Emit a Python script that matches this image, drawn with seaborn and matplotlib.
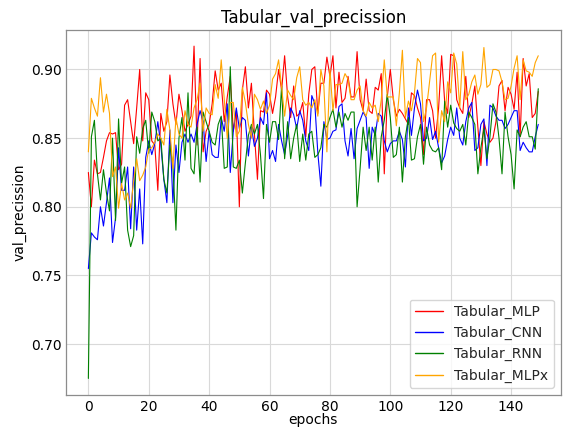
"""Tabular_val_precission 곡선 다시 그리기"""
import matplotlib
matplotlib.use("Agg")
import matplotlib.pyplot as plt
import numpy as np
import pandas as pd
import seaborn as sns

# 그림에서 읽은 값 (epoch 0 ~ 149)
mlp = [
    0.825, 0.800, 0.834, 0.824, 0.825, 0.836, 0.848, 0.854, 0.853, 0.854,
    0.827, 0.831, 0.874, 0.878, 0.862, 0.846, 0.872, 0.900, 0.848, 0.883,
    0.878, 0.848, 0.845, 0.812, 0.868, 0.855, 0.862, 0.896, 0.875, 0.860,
    0.882, 0.870, 0.855, 0.860, 0.866, 0.917, 0.845, 0.908, 0.840, 0.855,
    0.860, 0.875, 0.899, 0.885, 0.890, 0.862, 0.880, 0.895, 0.855, 0.870,
    0.800, 0.885, 0.902, 0.872, 0.890, 0.853, 0.820, 0.870, 0.869, 0.885,
    0.882, 0.868, 0.880, 0.900, 0.885, 0.910, 0.880, 0.865, 0.888, 0.866,
    0.868, 0.876, 0.851, 0.882, 0.900, 0.902, 0.868, 0.890, 0.890, 0.909,
    0.895, 0.910, 0.872, 0.898, 0.876, 0.879, 0.895, 0.880, 0.880, 0.913,
    0.878, 0.870, 0.893, 0.870, 0.868, 0.887, 0.885, 0.897, 0.824, 0.880,
    0.900, 0.878, 0.866, 0.871, 0.868, 0.864, 0.860, 0.883, 0.881, 0.872,
    0.865, 0.838, 0.878, 0.878, 0.870, 0.850, 0.872, 0.910, 0.877, 0.868,
    0.911, 0.910, 0.878, 0.872, 0.868, 0.895, 0.865, 0.875, 0.888, 0.858,
    0.830, 0.862, 0.853, 0.847, 0.850, 0.862, 0.888, 0.892, 0.870, 0.887,
    0.882, 0.871, 0.898, 0.851, 0.908, 0.888, 0.897, 0.865, 0.868, 0.884,
]
cnn = [
    0.755, 0.781, 0.778, 0.776, 0.800, 0.786, 0.803, 0.821, 0.774, 0.792,
    0.843, 0.812, 0.812, 0.829, 0.784, 0.829, 0.783, 0.813, 0.773, 0.836,
    0.848, 0.838, 0.846, 0.862, 0.845, 0.820, 0.803, 0.856, 0.803, 0.845,
    0.825, 0.847, 0.853, 0.847, 0.853, 0.847, 0.860, 0.870, 0.862, 0.833,
    0.855, 0.838, 0.836, 0.836, 0.865, 0.855, 0.875, 0.825, 0.855, 0.872,
    0.857, 0.865, 0.863, 0.837, 0.858, 0.844, 0.850, 0.865, 0.860, 0.883,
    0.835, 0.841, 0.833, 0.860, 0.848, 0.838, 0.852, 0.872, 0.867, 0.857,
    0.870, 0.863, 0.848, 0.841, 0.881, 0.875, 0.839, 0.815, 0.862, 0.849,
    0.850, 0.855, 0.856, 0.873, 0.875, 0.848, 0.837, 0.857, 0.835, 0.857,
    0.863, 0.869, 0.865, 0.828, 0.858, 0.852, 0.868, 0.866, 0.848, 0.840,
    0.846, 0.848, 0.848, 0.855, 0.849, 0.829, 0.872, 0.852, 0.872, 0.885,
    0.875, 0.848, 0.850, 0.865, 0.849, 0.855, 0.843, 0.832, 0.837, 0.849,
    0.858, 0.852, 0.872, 0.850, 0.845, 0.862, 0.872, 0.876, 0.841, 0.843,
    0.860, 0.864, 0.830, 0.874, 0.872, 0.866, 0.863, 0.863, 0.857, 0.860,
    0.865, 0.870, 0.870, 0.841, 0.847, 0.843, 0.840, 0.840, 0.851, 0.860,
]
rnn = [
    0.675, 0.851, 0.863, 0.824, 0.805, 0.827, 0.810, 0.797, 0.850, 0.790,
    0.864, 0.817, 0.829, 0.783, 0.771, 0.779, 0.851, 0.839, 0.857, 0.863,
    0.839, 0.869, 0.862, 0.848, 0.850, 0.820, 0.810, 0.845, 0.830, 0.783,
    0.850, 0.865, 0.834, 0.883, 0.828, 0.824, 0.858, 0.818, 0.869, 0.862,
    0.855, 0.847, 0.845, 0.860, 0.866, 0.828, 0.829, 0.902, 0.829, 0.828,
    0.834, 0.810, 0.832, 0.852, 0.860, 0.853, 0.860, 0.838, 0.806, 0.860,
    0.847, 0.862, 0.862, 0.849, 0.888, 0.835, 0.862, 0.835, 0.850, 0.860,
    0.833, 0.853, 0.834, 0.853, 0.855, 0.836, 0.838, 0.843, 0.860, 0.858,
    0.865, 0.871, 0.858, 0.869, 0.858, 0.868, 0.863, 0.869, 0.869, 0.800,
    0.828, 0.858, 0.841, 0.858, 0.834, 0.858, 0.818, 0.851, 0.863, 0.882,
    0.865, 0.836, 0.838, 0.858, 0.818, 0.851, 0.865, 0.834, 0.835, 0.851,
    0.860, 0.831, 0.858, 0.845, 0.841, 0.840, 0.843, 0.827, 0.877, 0.858,
    0.874, 0.861, 0.857, 0.855, 0.860, 0.845, 0.869, 0.865, 0.860, 0.824,
    0.843, 0.857, 0.835, 0.851, 0.875, 0.869, 0.850, 0.824, 0.869, 0.851,
    0.838, 0.813, 0.856, 0.851, 0.858, 0.862, 0.851, 0.851, 0.842, 0.886,
]
mlpx = [
    0.840, 0.879, 0.872, 0.866, 0.894, 0.869, 0.882, 0.868, 0.822, 0.829,
    0.799, 0.817, 0.805, 0.810, 0.799, 0.819, 0.835, 0.819, 0.823, 0.829,
    0.842, 0.843, 0.847, 0.853, 0.850, 0.845, 0.871, 0.856, 0.828, 0.865,
    0.853, 0.850, 0.870, 0.860, 0.858, 0.872, 0.878, 0.890, 0.855, 0.872,
    0.868, 0.867, 0.889, 0.879, 0.907, 0.878, 0.850, 0.876, 0.876, 0.851,
    0.855, 0.887, 0.876, 0.860, 0.850, 0.882, 0.878, 0.871, 0.877, 0.868,
    0.874, 0.893, 0.897, 0.907, 0.887, 0.866, 0.885, 0.881, 0.878, 0.894,
    0.902, 0.878, 0.874, 0.876, 0.872, 0.878, 0.866, 0.900, 0.888, 0.840,
    0.900, 0.870, 0.889, 0.889, 0.890, 0.897, 0.893, 0.878, 0.878, 0.885,
    0.888, 0.870, 0.866, 0.876, 0.872, 0.874, 0.862, 0.878, 0.907, 0.880,
    0.880, 0.880, 0.859, 0.883, 0.914, 0.865, 0.877, 0.870, 0.883, 0.908,
    0.905, 0.862, 0.872, 0.891, 0.910, 0.912, 0.847, 0.870, 0.862, 0.891,
    0.883, 0.912, 0.904, 0.872, 0.913, 0.878, 0.882, 0.891, 0.896, 0.882,
    0.889, 0.916, 0.887, 0.889, 0.900, 0.900, 0.899, 0.891, 0.878, 0.879,
    0.888, 0.901, 0.910, 0.878, 0.907, 0.899, 0.898, 0.895, 0.905, 0.910,
]
names = ["Tabular_MLP", "Tabular_CNN", "Tabular_RNN", "Tabular_MLPx"]
colors = ["red", "blue", "green", "orange"]

# seaborn 이 쓰는 긴 형태 표
epochs = np.arange(len(mlp))
frames = []
for name, vals in zip(names, [mlp, cnn, rnn, mlpx]):
    frames.append(pd.DataFrame({"epochs": epochs, "val_precission": vals, "model": name}))
df = pd.concat(frames, ignore_index=True)

sns.set_theme(style="whitegrid")
plt.rcParams["font.family"] = ["DejaVu Sans"]

fig, ax = plt.subplots(figsize=(5.63, 4.28), dpi=100)
fig.subplots_adjust(left=0.117, right=0.996, top=0.931, bottom=0.077)

sns.lineplot(data=df, x="epochs", y="val_precission", hue="model",
             palette=dict(zip(names, colors)), linewidth=0.8, ax=ax)

ax.set_title("Tabular_val_precission", fontsize=12, color="black", pad=5)
ax.set_xlabel("epochs", fontsize=10, color="black", labelpad=-0.5)
ax.set_ylabel("val_precission", fontsize=10, color="black", labelpad=3)
ax.tick_params(labelsize=10, colors="black", length=0, pad=3)
ax.tick_params(axis="x", pad=3.5)
ax.set_xticks([0, 20, 40, 60, 80, 100, 120, 140])
ax.set_yticks([0.70, 0.75, 0.80, 0.85, 0.90])
ax.set_yticklabels(["0.70", "0.75", "0.80", "0.85", "0.90"])
ax.grid(color="0.85", linewidth=0.8)
for sp in ax.spines.values():
    sp.set_color("0.55")
    sp.set_linewidth(0.9)

sns.move_legend(ax, "lower right", title=None, fontsize=10)
leg = ax.get_legend()
for line, c in zip(leg.get_lines(), colors):
    line.set_color(c)
    line.set_linewidth(1.0)

fig.savefig("out.png", dpi=100)
